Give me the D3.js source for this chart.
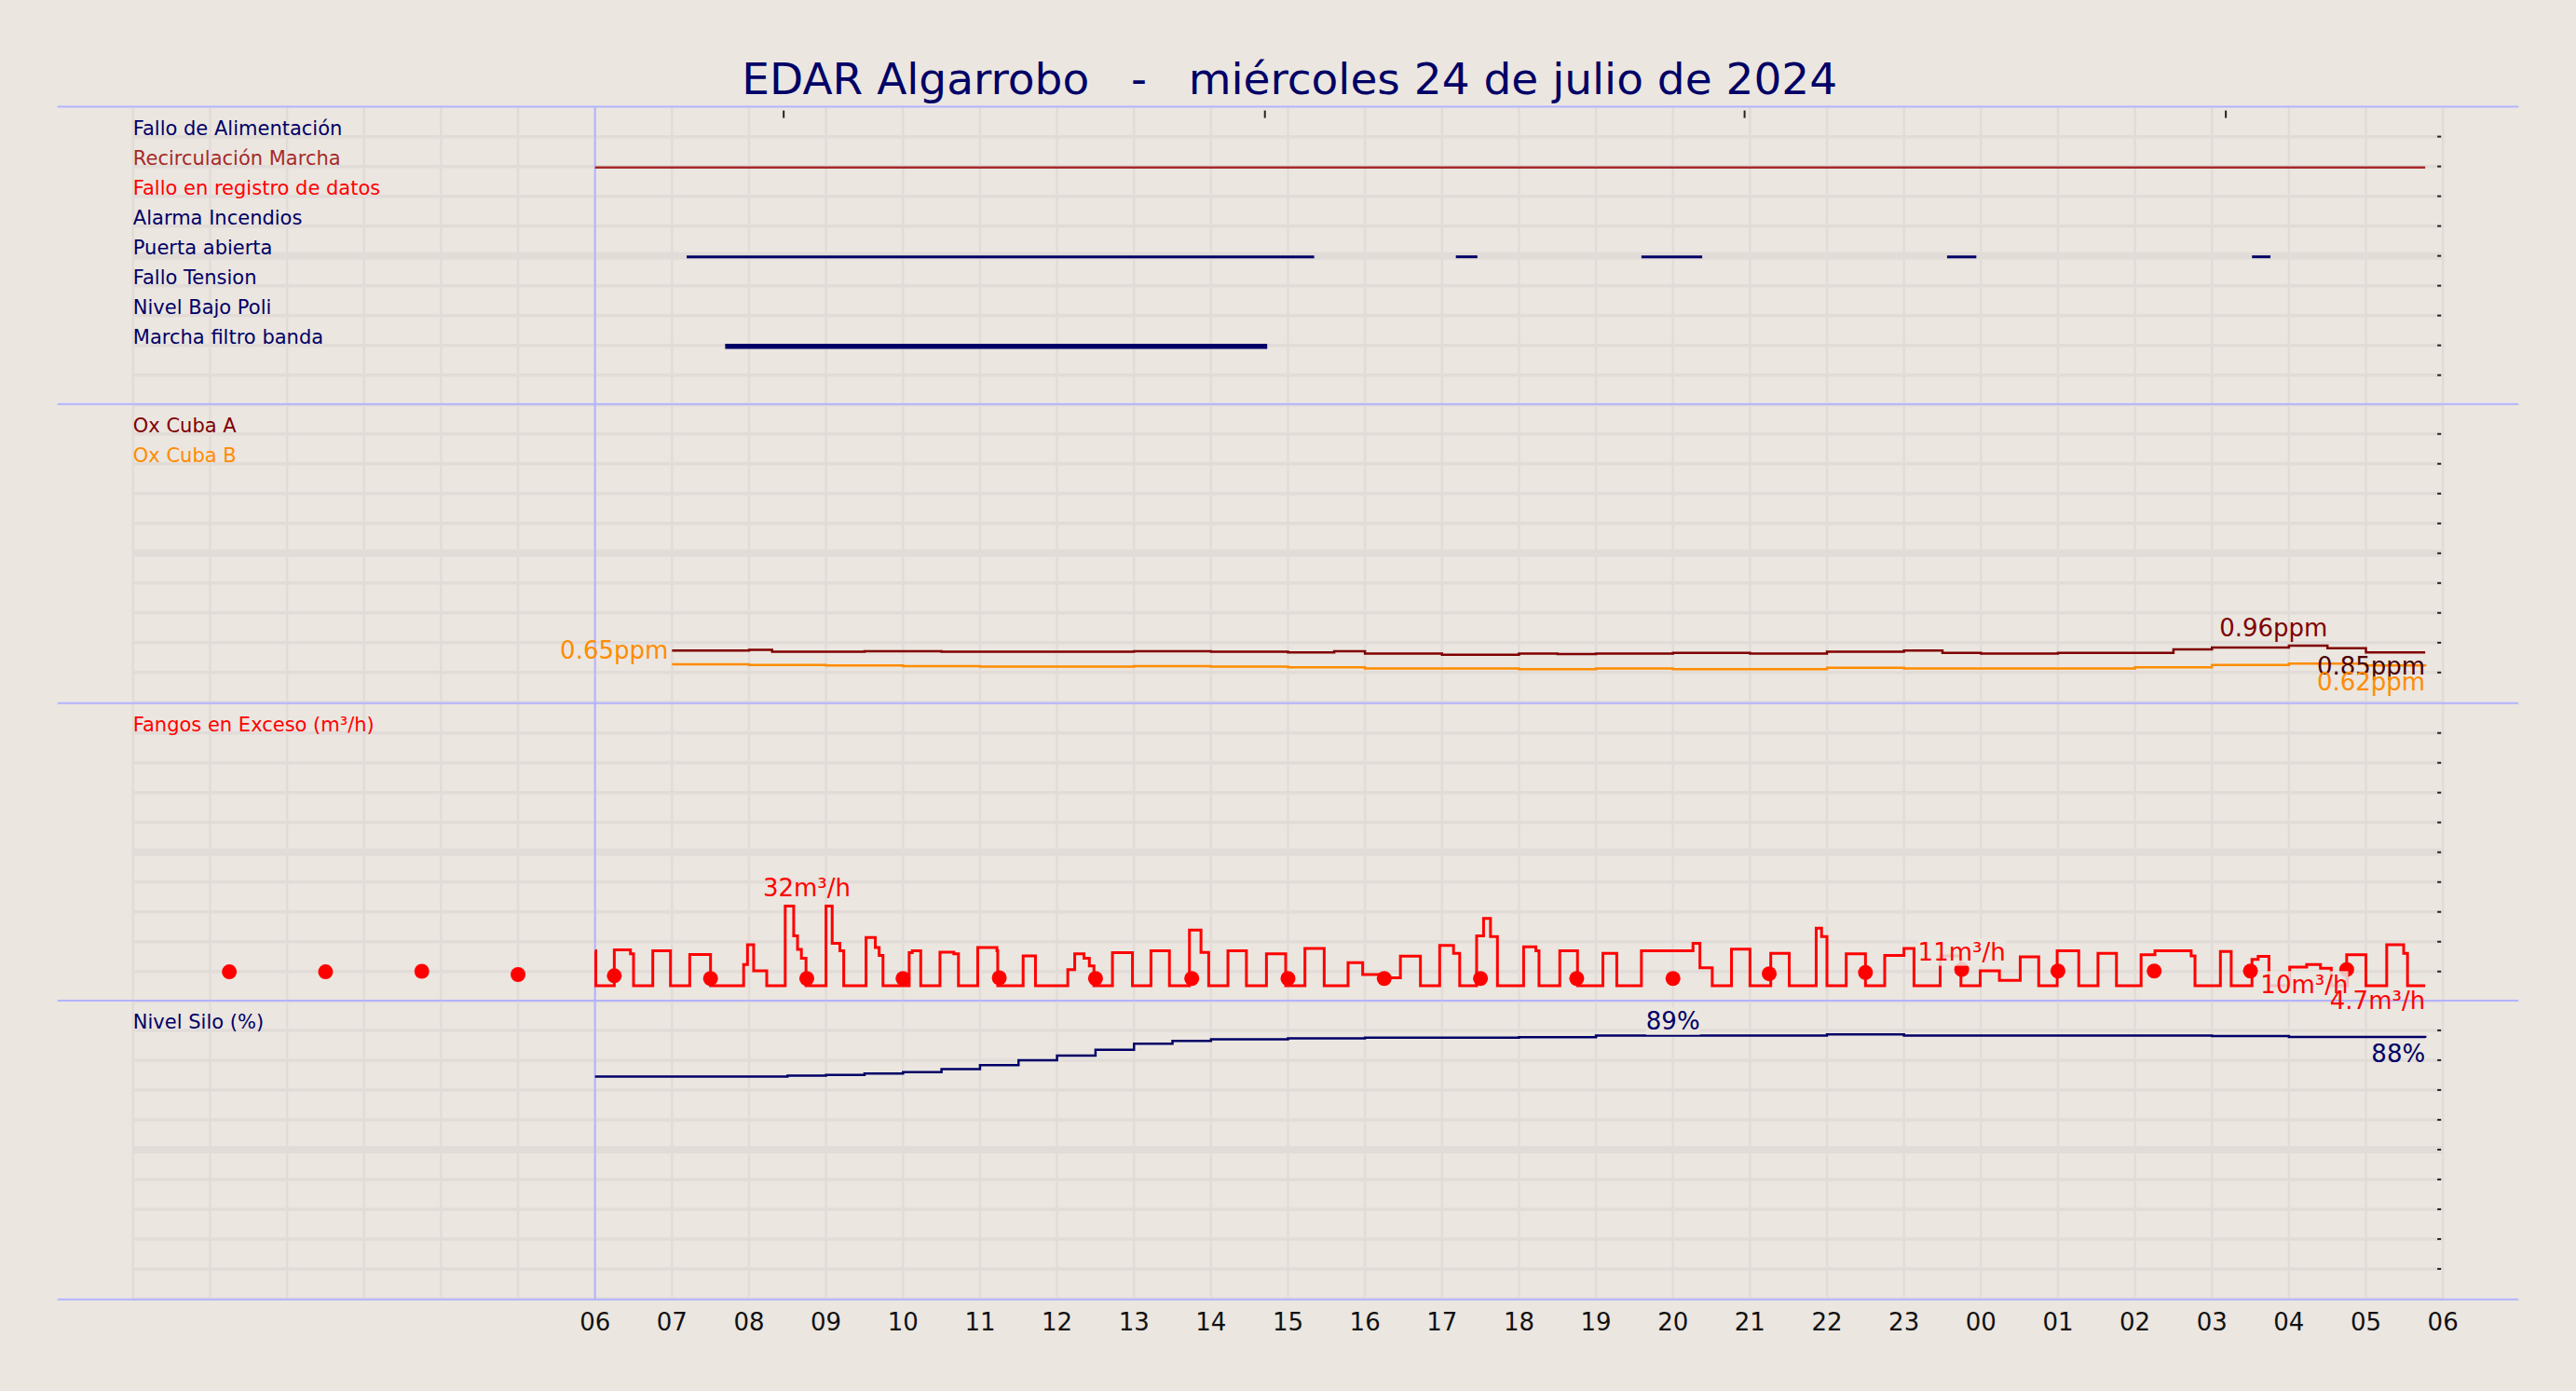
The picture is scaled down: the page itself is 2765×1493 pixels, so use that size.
<!DOCTYPE html>
<html><head><meta charset="utf-8">
<script src="https://cdn.jsdelivr.net/npm/d3@7"></script>
<style>body{margin:0;background:#ebe6e0} text{white-space:pre}</style></head>
<body><svg id="c" width="2765" height="1493"></svg>
<script>
const title = "EDAR Algarrobo   -   miércoles 24 de julio de 2024";
const hourTicks = [6,7,8,9,10,11,12,13,14,15,16,17,18,19,20,21,22,23,24,25,26,27,28,29,30];
const tickLabels = ["06","07","08","09","10","11","12","13","14","15","16","17","18","19","20","21","22","23","00","01","02","03","04","05","06"];
const topTicks = [8.45,14.7,20.93,27.18];
const digitalLabels = ["Fallo de Alimentación","Recirculación Marcha","Fallo en registro de datos","Alarma Incendios","Puerta abierta","Fallo Tension","Nivel Bajo Poli","Marcha filtro banda"];
const digitalColors = ["#000066","#a52a2a","#ff0000","#000066","#000066","#000066","#000066","#000066"];
const digitalSegments = [[1,6,29.77,2.5],[4,7.19,15.34,3],[4,17.18,17.46,3],[4,19.59,20.38,3],[4,23.56,23.94,3],[4,27.52,27.76,3],[7,7.69,14.73,5.5]];
const oxA = [[7,0.88],[8,0.89],[8.3,0.86],[9.5,0.87],[10.5,0.86],[12,0.86],[13,0.87],[14,0.86],[15,0.85],[15.6,0.87],[16,0.83],[17,0.81],[18,0.83],[18.5,0.82],[19,0.83],[20,0.84],[21,0.83],[22,0.86],[23,0.88],[23.5,0.84],[24,0.83],[25,0.84],[26,0.84],[26.5,0.9],[27,0.93],[28,0.96],[28.5,0.92],[29,0.85],[29.77,0.85]];
const oxB = [[7,0.65],[8,0.64],[9,0.63],[10,0.62],[11,0.61],[13,0.62],[14,0.61],[15,0.60],[16,0.58],[18,0.57],[19,0.58],[20,0.57],[22,0.59],[23,0.58],[25,0.58],[26,0.60],[27,0.64],[28,0.66],[29,0.63],[29.77,0.62]];
const fangos = [[6,14],[6.01,0],[6.25,14.4],[6.46,12.8],[6.5,0],[6.75,14],[6.98,0],[7.23,12.5],[7.5,0],[7.93,8.5],[7.98,16.5],[8.06,6],[8.23,0],[8.47,32],[8.58,20],[8.63,14.6],[8.68,11],[8.74,0],[9,32],[9.08,17],[9.18,14],[9.23,0],[9.52,19.4],[9.64,15.3],[9.69,12.2],[9.74,0],[10.08,13.3],[10.12,14],[10.23,0],[10.48,13.5],[10.66,12.8],[10.72,0],[10.97,15.3],[11.22,14],[11.23,0],[11.56,12],[11.72,0],[12.14,6.5],[12.23,12.8],[12.35,11],[12.42,8],[12.48,0],[12.72,13.3],[12.98,0],[13.22,14],[13.46,0],[13.72,22.4],[13.87,13.4],[13.97,0],[14.22,14],[14.46,0],[14.72,12.8],[14.97,0],[15.22,15],[15.47,0],[15.78,9.3],[15.97,4.5],[16.2,3.2],[16.46,11.9],[16.72,0],[16.97,16.2],[17.15,13],[17.23,0],[17.45,20],[17.54,27],[17.63,19.7],[17.72,0],[18.06,15.6],[18.22,14],[18.26,0],[18.53,14],[18.76,0],[19.09,13],[19.27,0],[19.59,14],[20.26,17],[20.35,7.2],[20.51,0],[20.76,14.7],[21,0],[21.27,13],[21.51,0],[21.86,23.1],[21.93,19.7],[22,0],[22.25,12.8],[22.5,0],[22.75,12.2],[23,15],[23.13,0],[23.47,12],[23.74,0],[23.99,6],[24.24,2.2],[24.51,11.6],[24.75,0],[24.99,14],[25.27,0],[25.52,13],[25.76,0],[26.08,12.4],[26.26,14],[26.73,12],[26.78,0],[27.11,13.8],[27.25,0],[27.52,10.6],[27.6,11.8],[27.74,0],[28.01,7.5],[28.23,8.5],[28.41,7],[28.55,0],[28.75,12.4],[29,0],[29.27,16.5],[29.49,13],[29.54,0],[29.77,0]];
const dotHours = [1.25,2.5,3.75,5,6.25,7.5,8.75,10,11.25,12.5,13.75,15,16.25,17.5,18.75,20,21.25,22.5,23.75,25,26.25,27.5,28.75];
const dotValues = [5.6,5.6,5.8,4.5,4,2.9,2.9,2.9,3.2,2.9,2.9,2.9,2.9,2.9,2.9,2.9,4.8,5.3,6.5,5.9,5.9,5.9,6.5];
const silo = [[6,75],[8,75],[8.5,75.3],[9,75.5],[9.5,76],[10,76.5],[10.5,77.5],[11,78.8],[11.5,80.5],[12,82],[12.5,84],[13,86],[13.5,87],[14,87.5],[15,87.8],[16,88.1],[18,88.2],[19,88.8],[22,89.2],[23,88.8],[27,88.6],[28,88.3],[29.77,88]];

const S = 2765/1568;
const svg = d3.select("#c");
const navy = "#000066", F = "DejaVu Sans";
const x = d3.scaleLinear().domain([0,30]).range([81*S,1487*S]);
const panels = [65,246,428,609,791].map(v=>v*S);
const step = 18.15*S;
const g = svg.append("g");
for (let h=0; h<=30; h++) g.append("line").attr("x1",x(h)).attr("x2",x(h)).attr("y1",panels[0]).attr("y2",panels[4]).attr("stroke","#e2dcd8").attr("stroke-width",2.5);
for (let p=0;p<4;p++){
  for (let i=0;i<10;i++){
    const y = panels[p]+step*(i+1);
    g.append("line").attr("x1",x(0)).attr("x2",x(30)).attr("y1",y).attr("y2",y).attr("stroke","#e2dcd8").attr("stroke-width", i==4?8:3.5);
    if (i<9) g.append("line").attr("x1",x(30)-6).attr("x2",x(30)-2).attr("y1",y).attr("y2",y).attr("stroke","#222").attr("stroke-width",2);
  }
}
panels.forEach(y=>g.append("line").attr("x1",35*S).attr("x2",1533*S).attr("y1",y).attr("y2",y).attr("stroke","#b3b3ff").attr("stroke-width",2));
g.append("line").attr("x1",x(6)).attr("x2",x(6)).attr("y1",panels[0]).attr("y2",panels[4]).attr("stroke","#b3b3ff").attr("stroke-width",2);
topTicks.forEach(h=>g.append("line").attr("x1",x(h)).attr("x2",x(h)).attr("y1",panels[0]+4).attr("y2",panels[0]+12).attr("stroke","#222").attr("stroke-width",2));
svg.append("text").attr("x",785*S).attr("y",57*S).attr("text-anchor","middle").attr("font-family",F).attr("font-size",47).attr("fill",navy).text(title);
hourTicks.forEach((h,i)=>svg.append("text").attr("x",x(h)).attr("y",810*S).attr("text-anchor","middle").attr("font-family",F).attr("font-size",26).attr("fill","#111").text(tickLabels[i]));
const lab=(t,row,p,c)=>svg.append("text").attr("x",x(0)).attr("y",panels[p]+step*(row+1)-2).attr("font-family",F).attr("font-size",21).attr("fill",c).text(t);
digitalLabels.forEach((t,i)=>lab(t,i,0,digitalColors[i]));
digitalSegments.forEach(s=>{const y=panels[0]+step*(s[0]+1)+1;
  g.append("line").attr("x1",x(s[1])).attr("x2",x(s[2])).attr("y1",y).attr("y2",y).attr("stroke",digitalColors[s[0]]).attr("stroke-width",s[3]);});
const yOx = d3.scaleLinear().domain([0,5]).range([panels[2],panels[1]]);
const stepLine=(y)=>d3.line().x(d=>x(d[0])).y(d=>y(d[1])).curve(d3.curveStepAfter);
lab("Ox Cuba A",0,1,"#800000"); lab("Ox Cuba B",1,1,"#ff8c00");
g.append("path").datum(oxB).attr("d",stepLine(yOx)).attr("fill","none").attr("stroke","#ff8c00").attr("stroke-width",2.5);
g.append("path").datum(oxA).attr("d",stepLine(yOx)).attr("fill","none").attr("stroke","#800000").attr("stroke-width",2.5);
const txt=(t,xx,yy,c,anchor,bg)=>{ const e=svg.append("text").attr("x",xx).attr("y",yy).attr("text-anchor",anchor).attr("font-family",F).attr("font-size",26).attr("fill",c).text(t);
  if(bg){const b=e.node().getBBox(); svg.insert("rect","text").attr("x",b.x).attr("y",b.y).attr("width",b.width).attr("height",b.height).attr("fill","#ebe6e0").attr("opacity",0.85);} };
txt("0.65ppm",x(7)-4,yOx(0.65)-6,"#ff8c00","end");
txt("0.96ppm",x(27.8),yOx(0.96)-10,"#800000","middle");
txt("0.85ppm",x(29.77),yOx(0.85)+24,"#4a0000","end");
txt("0.62ppm",x(29.77),yOx(0.62)+26,"#ff8c00","end");
const yF = d3.scaleLinear().domain([0,120]).range([600*S,418*S]);
lab("Fangos en Exceso (m³/h)",0,2,"#ff0000");
g.append("path").datum(fangos).attr("d",stepLine(yF)).attr("fill","none").attr("stroke","#ff0000").attr("stroke-width",3);
dotHours.forEach((h,i)=>g.append("circle").attr("cx",x(h)).attr("cy",yF(dotValues[i])).attr("r",8).attr("fill","#ff0000"));
txt("32m³/h",x(8.75),yF(32)-10,"#ff0000","middle");
txt("11m³/h",x(23.75),yF(11)+2,"#ff0000","middle",true);
txt("10m³/h",x(28.2),yF(-0.5)+7,"#ff0000","middle",true);
txt("4.7m³/h",x(29.77),yF(-7.5)+5,"#ff0000","end");
const yS = d3.scaleLinear().domain([0,100]).range([panels[4],610*S]);
lab("Nivel Silo (%)",0,3,navy);
g.append("path").datum(silo).attr("d",stepLine(yS)).attr("fill","none").attr("stroke",navy).attr("stroke-width",2.5);
txt("89%",x(20),yS(89)-6,navy,"middle",true);
txt("88%",x(29.77),yS(88)+26,navy,"end");
</script></body></html>
